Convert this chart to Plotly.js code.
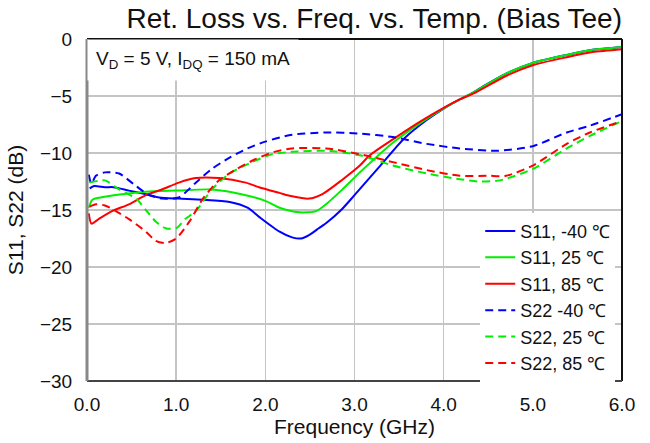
<!DOCTYPE html>
<html>
<head>
<meta charset="utf-8">
<script src="https://cdn.plot.ly/plotly-3.0.1.min.js"></script>
<style>html,body{margin:0;padding:0;background:#fff;}#chart{width:650px;height:443px;}</style>
</head>
<body>
<div id="chart"></div>
<script>
// Frequency (GHz) and return loss (dB)
const s11m40_x = [0.03,0.08,0.2,0.3,0.47,0.65,0.81,1.03,1.3,1.6,1.8,1.93,2.16,2.3,2.4,2.49,2.6,2.69,2.85,3.0,3.29,3.56,3.81,4.0,4.18,4.33,4.5,4.71,5.0,5.38,5.67,6.0];
const s11m40_y = [-13.1,-12.9,-13.0,-13.0,-13.3,-13.6,-13.9,-14.0,-14.1,-14.3,-14.8,-15.6,-16.9,-17.4,-17.5,-17.2,-16.6,-16.1,-15.0,-13.7,-11.1,-8.7,-7.1,-6.1,-5.3,-4.7,-3.9,-3.0,-2.1,-1.4,-0.95,-0.7];

const s11p25_x = [0.02,0.06,0.15,0.3,0.66,1.0,1.4,1.78,2.0,2.16,2.38,2.57,2.68,2.85,3.06,3.43,3.81,4.18,4.33,4.71,5.0,5.38,5.67,6.0];
const s11p25_y = [-14.8,-14.1,-13.9,-13.7,-13.4,-13.3,-13.2,-13.7,-14.2,-14.8,-15.2,-15.1,-14.5,-13.3,-11.7,-9.1,-7.0,-5.3,-4.7,-3.0,-2.1,-1.4,-0.95,-0.7];

const s11p85_x = [0.02,0.05,0.13,0.28,0.47,0.66,0.84,1.03,1.22,1.48,1.78,1.93,2.16,2.3,2.49,2.64,2.87,3.06,3.17,3.43,3.81,4.18,4.33,4.71,5.0,5.38,5.67,6.0];
const s11p85_y = [-15.3,-16.2,-15.8,-15.1,-14.5,-13.7,-13.2,-12.6,-12.2,-12.2,-12.6,-13.0,-13.5,-13.8,-14.0,-13.6,-12.3,-11.1,-10.2,-8.8,-6.9,-5.3,-4.8,-3.2,-2.3,-1.6,-1.15,-0.9];

const s22m40_x = [0.02,0.05,0.1,0.2,0.36,0.55,0.7,0.85,1.03,1.22,1.4,1.6,1.8,2.0,2.3,2.68,3.06,3.43,3.81,4.18,4.6,5.0,5.38,5.64,6.0];
const s22m40_y = [-11.9,-12.7,-12.0,-11.7,-11.8,-12.9,-13.7,-14.0,-13.9,-12.6,-11.4,-10.4,-9.6,-9.0,-8.4,-8.2,-8.3,-8.6,-9.2,-9.6,-9.8,-9.4,-8.2,-7.6,-6.6];

const s22p25_x = [0.03,0.2,0.36,0.55,0.66,0.77,0.88,1.0,1.1,1.22,1.4,1.6,1.85,2.08,2.3,2.68,3.06,3.43,3.81,4.18,4.4,4.63,5.0,5.38,5.64,6.0];
const s22p25_y = [-12.6,-12.4,-13.2,-14.0,-15.0,-16.0,-16.6,-16.6,-15.8,-15.1,-13.2,-11.8,-10.8,-10.1,-9.9,-9.8,-10.2,-11.1,-11.8,-12.3,-12.5,-12.4,-11.4,-9.6,-8.5,-7.2];

const s22p85_x = [0.03,0.1,0.2,0.28,0.47,0.66,0.77,0.88,1.0,1.15,1.3,1.48,1.68,1.9,2.1,2.3,2.68,3.06,3.43,3.81,4.18,4.5,4.7,5.0,5.38,5.64,6.0];
const s22p85_y = [-14.7,-14.5,-14.6,-14.9,-15.8,-16.9,-17.7,-17.9,-17.5,-16.0,-14.0,-12.4,-11.4,-10.5,-9.9,-9.6,-9.6,-10.1,-10.8,-11.5,-12.0,-12.0,-12.0,-11.1,-9.2,-8.2,-7.2];

const seriesNames = ["S11, -40 \u2103","S11, 25 \u2103","S11, 85 \u2103","S22 -40 \u2103","S22, 25 \u2103","S22, 85 \u2103"];
const xTicks = [0,1,2,3,4,5,6];
const xTickText = ["0.0","1.0","2.0","3.0","4.0","5.0","6.0"];
const yTicks = [0,-5,-10,-15,-20,-25,-30];

const colors = ["#0000ff","#00ee00","#ff0000"];
const FONT = "Liberation Sans, Arial, sans-serif";

function tr(x,y,name,color,dashed){
  return {x:x,y:y,name:name,type:'scatter',mode:'lines',
    line:{color:color,width:2,dash:dashed?'8px,5px':'solid',shape:'spline',smoothing:0.7}};
}
const data = [
  tr(s11m40_x,s11m40_y,seriesNames[0],colors[0],false),
  tr(s11p25_x,s11p25_y,seriesNames[1],colors[1],false),
  tr(s11p85_x,s11p85_y,seriesNames[2],colors[2],false),
  tr(s22m40_x,s22m40_y,seriesNames[3],colors[0],true),
  tr(s22p25_x,s22p25_y,seriesNames[4],colors[1],true),
  tr(s22p85_x,s22p85_y,seriesNames[5],colors[2],true)
];

const layout = {
  width:650,height:443,
  margin:{l:87,r:28,t:39,b:62},
  paper_bgcolor:'#fff',plot_bgcolor:'#fff',
  font:{family:FONT,color:'#111'},
  showlegend:true,
  title:{text:'Ret. Loss vs. Freq. vs. Temp. (Bias Tee)',font:{size:28,family:FONT,color:'#111'},
    xref:'paper',x:0.537,xanchor:'center',yref:'container',y:0.958,yanchor:'middle'},
  xaxis:{range:[0,6],tickvals:xTicks,ticktext:xTickText,showgrid:true,gridcolor:'#c4c4c4',gridwidth:1.5,
    zeroline:false,showline:false,ticks:'outside',ticklen:6,tickcolor:'rgba(0,0,0,0)',tickfont:{size:19,family:FONT,color:'#111'},
    title:{text:'Frequency (GHz)',font:{size:21,family:FONT,color:'#111'},standoff:0}},
  yaxis:{range:[-30,0],tickvals:yTicks,showgrid:true,gridcolor:'#c4c4c4',gridwidth:1.5,
    zeroline:false,showline:false,ticks:'outside',ticklen:10,tickcolor:'rgba(0,0,0,0)',tickfont:{size:19,family:FONT,color:'#111'},
    title:{text:'S11, S22 (dB)',font:{size:21,family:FONT,color:'#111'},standoff:10}},
  legend:{x:0.735,y:0.492,xanchor:'left',yanchor:'top',bgcolor:'#fff',borderwidth:0,
    font:{size:18,family:FONT,color:'#111'},itemwidth:30},
  annotations:[{xref:'paper',yref:'paper',x:0,y:1,xanchor:'left',yanchor:'top',showarrow:false,
    text:'V<sub>D</sub> = 5 V, I<sub>DQ</sub> = 150 mA',font:{size:19,family:FONT,color:'#111'},
    bgcolor:'#fff',borderpad:8,align:'left'}],
  shapes:[
    {type:'line',xref:'paper',yref:'paper',x0:0,x1:1,y0:1,y1:1,line:{color:'#111',width:2}},
    {type:'line',xref:'paper',yref:'paper',x0:1,x1:1,y0:0,y1:1,line:{color:'#111',width:2}},
    {type:'line',xref:'paper',yref:'paper',x0:0,x1:1,y0:0,y1:0,line:{color:'#444',width:2}},
    {type:'line',xref:'paper',yref:'paper',x0:0,x1:0,y0:0,y1:1,line:{color:'#888',width:3}}
  ]
};
Plotly.newPlot('chart',data,layout,{displayModeBar:false,staticPlot:true});
</script>
</body>
</html>
